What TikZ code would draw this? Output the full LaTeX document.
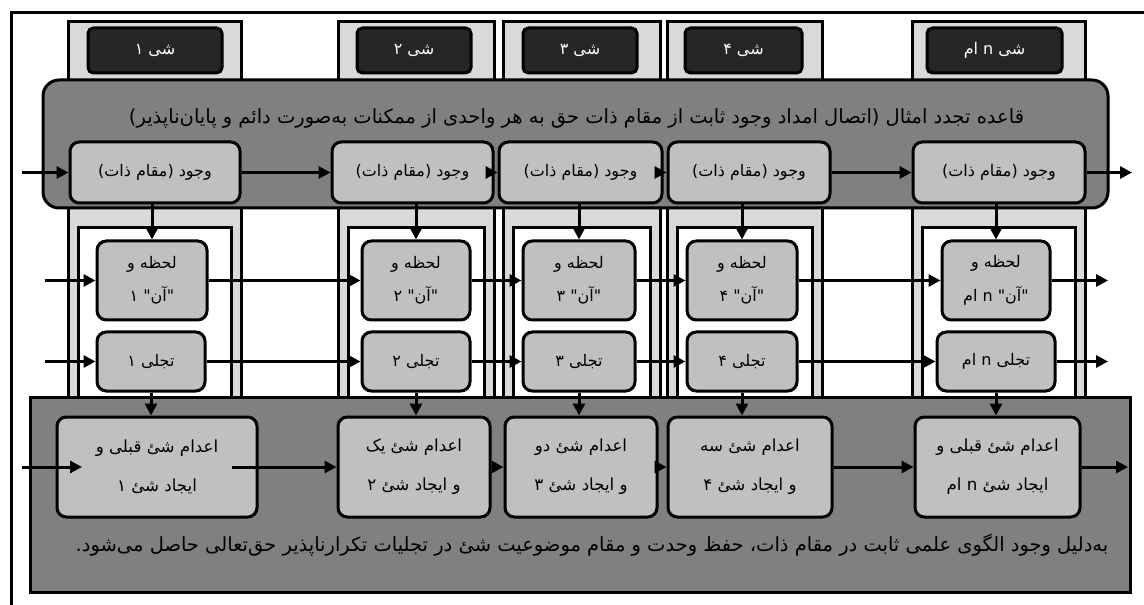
\documentclass[tikz,border=0pt]{standalone}
\usepackage{fontspec}
\usetikzlibrary{arrows.meta}
\TeXXeTstate=1
\newfontfamily\fa[Script=Arabic]{DejaVu Sans}
\newcommand\RL[1]{\beginR #1\endR}
\newcommand\LT[1]{\beginL #1\endL{}}
\definecolor{colgray}{HTML}{D9D9D9}
\definecolor{darkbox}{HTML}{262626}
\definecolor{panelgray}{HTML}{808080}
\definecolor{boxgray}{HTML}{C0C0C0}
\begin{document}
\begin{tikzpicture}[x=0.75pt,y=-0.75pt,
  colbox/.style={draw=black, line width=2.25pt, fill=colgray},
  innerbox/.style={draw=black, line width=2.25pt, fill=white},
  titlebox/.style={draw=black, line width=2.25pt, fill=darkbox, rounded corners=4pt, text=white,
    font=\fa\fontsize{12}{14}\selectfont, minimum height=33.75pt, inner sep=0pt},
  panel/.style={draw=black, line width=2.25pt, fill=panelgray, inner sep=0pt},
  paneltext/.style={font=\fa\fontsize{14.6}{17}\selectfont, text=black, inner sep=0pt},
  rbox/.style={draw=black, line width=2.25pt, fill=boxgray, rounded corners=7pt, inner sep=0pt,
    align=center, font=\fa\fontsize{12}{25}\selectfont},
  rboxb/.style={rbox, font=\fa\fontsize{12.5}{29}\selectfont},
  arr/.style={line width=2.25pt, -{Triangle[length=9pt,width=9pt]}}
]
\useasboundingbox (0,0) rectangle (1144,605);
\clip (0,0) rectangle (1144,605);
\fill[white] (0,0) rectangle (1144,605);
\draw[line width=2.25pt] (11,13) rectangle (1170,630);

% columns
\foreach \L/\R in {68/241, 338/494, 503/660, 667/822, 912/1085}{
  \draw[colbox] (\L,22) rectangle (\R,397);
  \draw[innerbox] (\L+10,228) rectangle (\R-10,397);
}
\node[titlebox, minimum width=100.5pt] (t1) at (155,50.5) {\RL{شی ۱}};
\node[titlebox, minimum width=85.5pt] (t2) at (414,50.5) {\RL{شی ۲}};
\node[titlebox, minimum width=85.5pt] (t3) at (580,50.5) {\RL{شی ۳}};
\node[titlebox, minimum width=87.75pt] (t4) at (743.5,50.5) {\RL{شی ۴}};
\node[titlebox, minimum width=101.25pt] (t5) at (994.5,50.5) {\RL{شی \LT{n} ام}};

% panels
\node[panel, rounded corners=12pt, minimum width=798.75pt, minimum height=96pt] (top) at (575.5,144) {};
\node[paneltext] (toptext) at (576.5,118) {\RL{قاعده تجدد امثال (اتصال امداد وجود ثابت از مقام ذات حق به هر واحدی از ممکنات به‌صورت دائم و پایان‌ناپذیر)}};
\node[panel, minimum width=825pt, minimum height=146.25pt] (bot) at (580,494.5) {};
\node[paneltext] (bottext) at (592,545) {\RL{به‌دلیل وجود الگوی علمی ثابت در مقام ذات، حفظ وحدت و مقام موضوعیت شئ در تجلیات تکرارناپذیر حق‌تعالی حاصل می‌شود.}};

% row 1
\node[rbox, minimum height=45.75pt, minimum width=127.5pt] (r1a) at (155,172.5) {\RL{وجود (مقام ذات)}};
\node[rbox, minimum height=45.75pt, minimum width=120.75pt] (r1b) at (412.5,172.5) {\RL{وجود (مقام ذات)}};
\node[rbox, minimum height=45.75pt, minimum width=122.25pt] (r1c) at (580.5,172.5) {\RL{وجود (مقام ذات)}};
\node[rbox, minimum height=45.75pt, minimum width=121.5pt] (r1d) at (749,172.5) {\RL{وجود (مقام ذات)}};
\node[rbox, minimum height=45.75pt, minimum width=129pt] (r1e) at (999,172.5) {\RL{وجود (مقام ذات)}};

% row 2
\node[rbox, minimum height=59.25pt, minimum width=82.5pt] (r2a) at (152,280.5) {\RL{لحظه و}\\\RL{"آن" ۱}};
\node[rbox, minimum height=59.25pt, minimum width=81pt] (r2b) at (416,280.5) {\RL{لحظه و}\\\RL{"آن" ۲}};
\node[rbox, minimum height=59.25pt, minimum width=84pt] (r2c) at (579,280.5) {\RL{لحظه و}\\\RL{"آن" ۳}};
\node[rbox, minimum height=59.25pt, minimum width=82.5pt] (r2d) at (742,280.5) {\RL{لحظه و}\\\RL{"آن" ۴}};
\node[rbox, minimum height=59.25pt, minimum width=81pt] (r2e) at (996,280.5) {\RL{لحظه و}\\\RL{"آن" \LT{n} ام}};

% row 3
\node[rbox, minimum height=44.25pt, minimum width=81pt] (r3a) at (151,361.5) {\RL{تجلی ۱}};
\node[rbox, minimum height=44.25pt, minimum width=81pt] (r3b) at (416,361.5) {\RL{تجلی ۲}};
\node[rbox, minimum height=44.25pt, minimum width=84pt] (r3c) at (579,361.5) {\RL{تجلی ۳}};
\node[rbox, minimum height=44.25pt, minimum width=82.5pt] (r3d) at (742,361.5) {\RL{تجلی ۴}};
\node[rbox, minimum height=44.25pt, minimum width=88.5pt] (r3e) at (996,361.5) {\RL{تجلی \LT{n} ام}};

% row 4
\node[rboxb, minimum height=75pt, minimum width=150pt] (r4a) at (157,467) {\RL{اعدام شئ قبلی و}\\\RL{ایجاد شئ ۱}};
\node[rboxb, minimum height=75pt, minimum width=114pt] (r4b) at (414,467) {\RL{اعدام شئ یک}\\\RL{و ایجاد شئ ۲}};
\node[rboxb, minimum height=75pt, minimum width=114pt] (r4c) at (581,467) {\RL{اعدام شئ دو}\\\RL{و ایجاد شئ ۳}};
\node[rboxb, minimum height=75pt, minimum width=123pt] (r4d) at (750,467) {\RL{اعدام شئ سه}\\\RL{و ایجاد شئ ۴}};
\node[rboxb, minimum height=75pt, minimum width=123.75pt] (r4e) at (997.5,467) {\RL{اعدام شئ قبلی و}\\\RL{ایجاد شئ \LT{n} ام}};

% free ends
\coordinate (in1) at (22,172.5);
\coordinate (out1) at (1132,172.5);
\coordinate (in2) at (45,280.5);
\coordinate (out2) at (1108,280.5);
\coordinate (in3) at (45,361.5);
\coordinate (out3) at (1108,361.5);
\coordinate (in4) at (22,467);
\coordinate (tip4) at (82,467);
\coordinate (out4) at (1128,467);

% horizontal connectors
\draw[arr] (in1) -- (r1a.west);
\draw[arr] (r1a.east) -- (r1b.west);
\draw[arr] (r1b.east) -- (r1c.west);
\draw[arr] (r1c.east) -- (r1d.west);
\draw[arr] (r1d.east) -- (r1e.west);
\draw[arr] (r1e.east) -- (out1);

\draw[arr] (in2) -- (r2a.west);
\draw[arr] (r2a.east) -- (r2b.west);
\draw[arr] (r2b.east) -- (r2c.west);
\draw[arr] (r2c.east) -- (r2d.west);
\draw[arr] (r2d.east) -- (r2e.west);
\draw[arr] (r2e.east) -- (out2);

\draw[arr] (in3) -- (r3a.west);
\draw[arr] (r3a.east) -- (r3b.west);
\draw[arr] (r3b.east) -- (r3c.west);
\draw[arr] (r3c.east) -- (r3d.west);
\draw[arr] (r3d.east) -- (r3e.west);
\draw[arr] (r3e.east) -- (out3);

\draw[arr] (in4) -- (tip4);
\draw[arr] ([xshift=-20pt]r4a.east) -- (r4b.west);
\draw[arr] (r4b.east) -- (r4c.west);
\draw[arr] (r4c.east) -- (r4d.west);
\draw[arr] (r4d.east) -- (r4e.west);
\draw[arr] (r4e.east) -- (out4);

% vertical connectors
\foreach \c in {a,b,c,d,e}{
  \draw[arr] (r1\c.south -| r2\c.north) -- (r2\c.north);
  \draw[arr] (r3\c.south) -- (r3\c.south |- r4\c.north);
}
\end{tikzpicture}
\end{document}
